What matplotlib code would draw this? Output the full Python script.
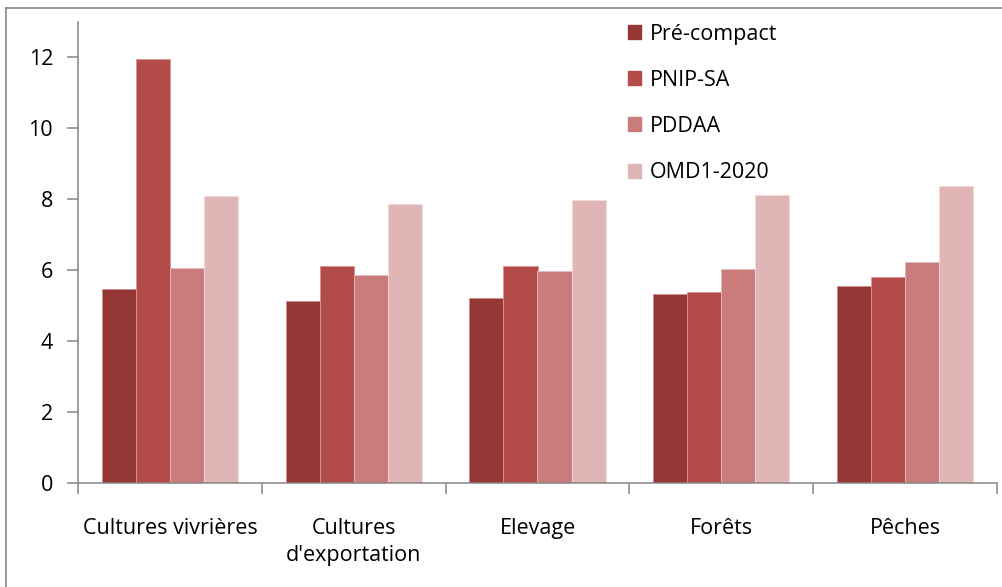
import matplotlib
matplotlib.use("Agg")
import matplotlib.pyplot as plt
import numpy as np
from matplotlib.patches import Patch
from matplotlib.lines import Line2D

categories = ["Cultures vivrières", "Cultures\nd'exportation", "Elevage", "Forêts", "Pêches"]
series_names = ["Pré-compact", "PNIP-SA", "PDDAA", "OMD1-2020"]
pre_compact = [5.48, 5.12, 5.23, 5.34, 5.55]
pnip_sa = [11.97, 6.13, 6.13, 5.39, 5.81]
pddaa = [6.07, 5.86, 5.98, 6.03, 6.24]
omd1_2020 = [8.09, 7.88, 7.99, 8.11, 8.37]
y_ticks = [0, 2, 4, 6, 8, 10, 12]

colors = ["#953735", "#B34B48", "#C97C7B", "#DFB5B5"]
edge_colors = ["#C98F8D", "#D99694", "#E6B9B8", "#F2DCDB"]
axis_grey = "#868686"

plt.rcParams["font.family"] = ["Open Sans", "DejaVu Sans"]
fs = 15.5

fig = plt.figure(figsize=(10.03, 5.87), dpi=100)
ax = fig.add_axes([78 / 1003, 1 - 483 / 587, (997 - 78) / 1003, (483 - 22) / 587])

x = np.arange(len(categories))
width = 0.185
all_series = [pre_compact, pnip_sa, pddaa, omd1_2020]
for i, (vals, name) in enumerate(zip(all_series, series_names)):
    ax.bar(x + (i - 1.5) * width, vals, width, color=colors[i],
           edgecolor=edge_colors[i], linewidth=0.6, label=name, zorder=2)

ax.set_xlim(-0.5, len(categories) - 0.5)
ax.set_ylim(0, 13)
ax.set_yticks(y_ticks)
ax.set_yticklabels([str(v) for v in y_ticks], fontsize=fs)

# category boundaries carry the tick marks; labels sit at the centres
ax.set_xticks(np.arange(-0.5, len(categories)), minor=False)
ax.set_xticklabels([])
ax.set_xticks(x, minor=True)
ax.set_xticklabels(categories, minor=True, fontsize=fs, linespacing=1.4)
ax.tick_params(axis="x", which="minor", length=0, pad=25)
ax.tick_params(axis="x", which="major", length=8, width=1.1, color=axis_grey, direction="out")
ax.tick_params(axis="y", length=8, width=1.1, color=axis_grey, direction="out", pad=10)

for side in ("top", "right"):
    ax.spines[side].set_visible(False)
for side in ("left", "bottom"):
    ax.spines[side].set_color(axis_grey)
    ax.spines[side].set_linewidth(1.1)

handles = [Patch(facecolor=c, edgecolor=c) for c in colors]
fig.legend(handles, series_names, loc="upper left",
           bbox_to_anchor=(619 / 1003, 1 - 15 / 587), frameon=False,
           fontsize=fs, handlelength=0.62, handleheight=0.62,
           handletextpad=0.4, labelspacing=1.17, borderaxespad=0)

# outer chart frame (left and top edges)
fig.add_artist(Line2D([6 / 1003, 6 / 1003], [0, 1 - 8 / 587], transform=fig.transFigure,
                      color=axis_grey, linewidth=1.2))
fig.add_artist(Line2D([6 / 1003, 1], [1 - 8 / 587, 1 - 8 / 587], transform=fig.transFigure,
                      color=axis_grey, linewidth=1.2))

fig.savefig("out.png", dpi=100)
